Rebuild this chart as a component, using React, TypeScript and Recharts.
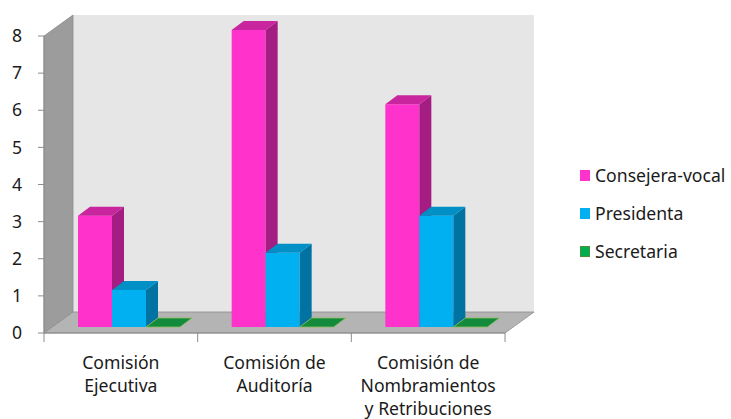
import React from 'react';
import { BarChart, Bar, XAxis, YAxis } from 'recharts';

const categories = ['Comisión\nEjecutiva', 'Comisión de\nAuditoría', 'Comisión de\nNombramientos\ny Retribuciones'];
const consejeraVocal = [3, 8, 6];
const presidenta = [1, 2, 3];
const secretaria = [0, 0, 0];
const yTicks = [0, 1, 2, 3, 4, 5, 6, 7, 8];

const seriesNames = ['Consejera-vocal', 'Presidenta', 'Secretaria'];
const seriesKeys = ['cv', 'pr', 'se'];
const seriesFront = ['#FF33CC', '#00B0F0', '#00B050'];
const seriesTop = ['#C9259F', '#0090C6', '#138A3C'];
const seriesSide = ['#A31D82', '#0073A2', '#0B6B2E'];

const data = categories.map((c, i) => ({ cat: c, cv: consejeraVocal[i], pr: presidenta[i], se: secretaria[i] }));

const W = 731;
const H = 419;
const M_TOP = 36;
const Y_AXIS_W = 44;
const X_AXIS_H = 86;
const M_RIGHT = 226;
const PL = Y_AXIS_W;
const PR = W - M_RIGHT;
const PT = M_TOP;
const PB = H - X_AXIS_H;
const DX = 29;
const DY = -21;
const SX = 8;
const SY = -6;
const BDX = 12;
const BDY = -9;
const FONT = '"Noto Sans", sans-serif';
const TEXT = '#1A1A1A';
const FS = 17.6;

const makeShape = (idx: number) => (props: any) => {
  const { x, y, width, height } = props;
  const X = x + SX;
  const Y = y + SY;
  const w = width;
  const h = Math.max(0, height);
  const pts = (arr: number[][]) => arr.map((p) => p.join(',')).join(' ');
  return (
    <g>
      {h > 0 && <rect x={X} y={Y} width={w} height={h} fill={seriesFront[idx]} />}
      {h > 0 && (
        <polygon
          points={pts([[X + w, Y], [X + w + BDX, Y + BDY], [X + w + BDX, Y + h + BDY], [X + w, Y + h]])}
          fill={seriesSide[idx]}
        />
      )}
      <polygon
        points={pts([[X, Y], [X + BDX, Y + BDY], [X + w + BDX, Y + BDY], [X + w, Y]])}
        fill={seriesTop[idx]}
        stroke={h > 0 ? 'none' : '#8DBF5A'}
        strokeWidth={h > 0 ? 0 : 0.8}
      />
    </g>
  );
};

const XTick = (props: any) => {
  const { x, y, payload } = props;
  const lines = String(payload.value).split('\n');
  return (
    <text x={x} y={y} textAnchor="middle" fontFamily={FONT} fontSize={FS} fill={TEXT}>
      {lines.map((l, i) => (
        <tspan key={i} x={x} y={y + 36 + i * 23}>
          {l}
        </tspan>
      ))}
    </text>
  );
};

const Background = () => {
  const bandW = (PR - PL) / categories.length;
  const pts = (arr: number[][]) => arr.map((p) => p.join(',')).join(' ');
  return (
    <svg width={W} height={H} style={{ position: 'absolute', left: 0, top: 0 }}>
      <polygon points={pts([[PL + DX, PT + DY], [PR + DX, PT + DY], [PR + DX, PB + DY], [PL + DX, PB + DY]])} fill="#E6E6E6" />
      <polygon points={pts([[PL, PT], [PL + DX, PT + DY], [PL + DX, PB + DY], [PL, PB]])} fill="#9C9C9C" stroke="#8C8C8C" strokeWidth={0.8} />
      <polygon points={pts([[PL, PB], [PL + DX, PB + DY], [PR + DX, PB + DY], [PR, PB]])} fill="#B4B4B4" stroke="#8C8C8C" strokeWidth={0.8} />
      {Array.from({ length: categories.length + 1 }, (_, i) => (
        <line key={i} x1={PL + i * bandW} x2={PL + i * bandW} y1={PB} y2={PB + 9} stroke="#8C8C8C" strokeWidth={1} />
      ))}
    </svg>
  );
};

export default function App() {
  return (
    <div style={{ position: 'absolute', left: 0, top: 0, width: W, height: H, background: '#fff' }}>
      <Background />
      <div style={{ position: 'absolute', left: 0, top: 0 }}>
        <BarChart
          width={W}
          height={H}
          data={data}
          margin={{ top: M_TOP, right: M_RIGHT, left: 0, bottom: 0 }}
          barGap={0}
          barSize={34}
        >
          <XAxis
            dataKey="cat"
            height={X_AXIS_H}
            tickLine={false}
            tickSize={0}
            tickMargin={0}
            axisLine={{ stroke: '#8C8C8C' }}
            tick={<XTick />}
            interval={0}
          />
          <YAxis
            width={Y_AXIS_W}
            domain={[0, 8]}
            ticks={yTicks}
            interval={0}
            tickSize={6}
            tickMargin={16}
            axisLine={{ stroke: '#8C8C8C' }}
            tickLine={{ stroke: '#8C8C8C' }}
            tick={{ fontSize: FS, fill: TEXT, fontFamily: FONT }}
          />
          {seriesKeys.map((k, i) => (
            <Bar key={k} dataKey={k} name={seriesNames[i]} fill={seriesFront[i]} isAnimationActive={false} shape={makeShape(i)} />
          ))}
        </BarChart>
      </div>
      <div style={{ position: 'absolute', left: 580, top: 156, fontFamily: FONT, fontSize: FS, color: TEXT }}>
        {seriesNames.map((n, i) => (
          <div key={n} style={{ display: 'flex', alignItems: 'center', height: 38, whiteSpace: 'nowrap' }}>
            <span style={{ display: 'inline-block', width: 10, height: 11, background: seriesFront[i], marginRight: 5, boxSizing: 'border-box', border: i === 2 ? '1px solid #4E8F3A' : 'none' }} />
            <span>{n}</span>
          </div>
        ))}
      </div>
    </div>
  );
}
